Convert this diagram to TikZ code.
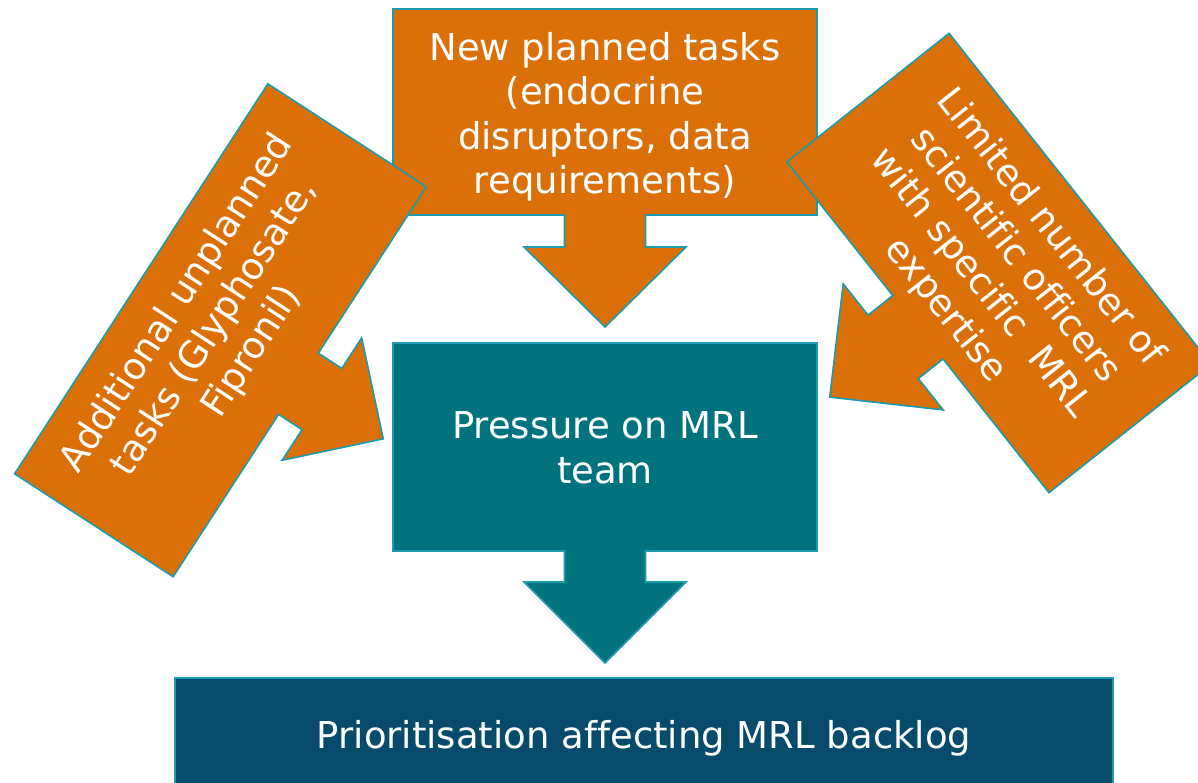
\documentclass[tikz,border=0pt]{standalone}
\usepackage{fontspec}
\setmainfont{DejaVu Sans}[Ligatures=CommonOff]
\definecolor{calloutorange}{RGB}{220,112,8}
\definecolor{edgeteal}{RGB}{26,156,172}
\definecolor{boxteal}{RGB}{0,115,127}
\definecolor{boxnavy}{RGB}{6,75,107}
% Down-arrow callout outline, centred on the local origin, y pointing up.
% #1 half width, #2 half height, #3 stem half width, #4 stem end (y),
% #5 head half width, #6 tip (y), #7 horizontal offset of the arrow
\newcommand\downcallout[7]{%
  (-#1,#2) -- (#1,#2) -- (#1,-#2) -- (#7+#3,-#2) -- (#7+#3,#4) -- (#7+#5,#4)
  -- (#7,#6) -- (#7-#5,#4) -- (#7-#3,#4) -- (#7-#3,-#2) -- (-#1,-#2) -- cycle}
\tikzset{
  orangeshape/.style={fill=calloutorange, draw=edgeteal, line width=1.6pt, line join=miter},
  tealshape/.style={fill=boxteal, draw=edgeteal, line width=1.6pt, line join=miter},
  navyshape/.style={fill=boxnavy, draw=edgeteal, line width=1.6pt},
  boxtext/.style={text=white, align=center, inner sep=0pt,
    font=\fontsize{37}{44.5}\selectfont},
}
\begin{document}
\begin{tikzpicture}[x=1pt,y=-1pt]
\path[use as bounding box] (0,0) rectangle (1198,782);
\clip (0,0) rectangle (1198,782);

% planned tasks, pointing down onto the team box
\begin{scope}[shift={(605,112)}, y=1pt]
  \draw[orangeshape] \downcallout{212}{103}{40.5}{-135}{81}{-215}{0};
\end{scope}
\node[boxtext] (newtasks) at (605,117)
  {New planned tasks\\(endocrine\\disruptors, data\\requirements)};

% team box, pointing down onto the backlog bar
\begin{scope}[shift={(605,447)}, y=1pt]
  \draw[tealshape] \downcallout{212}{104}{40.5}{-135}{81}{-216}{0};
\end{scope}
\node[boxtext] (pressure) at (605,448) {Pressure on MRL\\team};

% backlog bar along the bottom
\draw[navyshape] (175,678) rectangle (1113,800);
\node[boxtext] (backlog) at (644,738.4) {Prioritisation affecting MRL backlog};

% unplanned tasks, tilted callout on the left
\begin{scope}[shift={(220.5,330.3)}, y=1pt, rotate=57]
  \draw[orangeshape] \downcallout{232.5}{94.5}{36.5}{-122.5}{73}{-195.6}{-2.4};
  \node[boxtext, rotate=57] (unplanned) at (-1,6)
    {Additional unplanned\\tasks (Glyphosate,\\Fipronil)};
\end{scope}

% staffing limits, tilted callout on the right
\begin{scope}[shift={(999,263)}, y=1pt, rotate=-51.6]
  \draw[orangeshape] \downcallout{211}{103.5}{40.5}{-135}{80.5}{-216}{0};
  \node[boxtext, rotate=-51.6] (limited) at (4,-5)
    {Limited number of\\scientific officers\\with specific\ \ MRL\\expertise};
\end{scope}
\end{tikzpicture}
\end{document}
